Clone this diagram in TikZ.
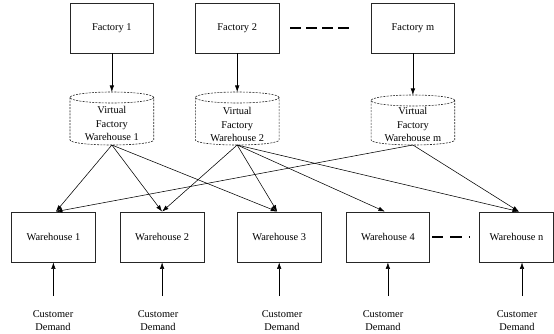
\documentclass[tikz,border=0pt]{standalone}
\usepackage{fontspec}
\setmainfont{Liberation Serif}
\usetikzlibrary{arrows.meta}
\newcommand{\vfwcyl}[2]{%
  \draw[cylline] ({#1-41.85},{#2+5.5}) -- ({#1-41.85},140)
    arc[start angle=180,end angle=360,x radius=41.85pt,y radius=5pt]
    -- ({#1+41.85},{#2+5.5});
  \draw[cylline] ({#1},{#2+5.5}) ellipse[x radius=41.85pt,y radius=5.5pt];
}
\begin{document}
\begin{tikzpicture}[x=1pt,y=-1pt,
  font=\fontsize{10.4}{13.3}\selectfont,
  box/.style={draw=black!85,line width=0.8pt,minimum width=83.7pt,minimum height=50pt,inner sep=0pt,anchor=center},
  cyltext/.style={align=center,inner sep=0pt},
  cylline/.style={draw=black!85,line width=0.6pt,dash pattern=on 2pt off 1.2pt},
  arr/.style={-{Latex[length=6.5pt,width=4.5pt]},line width=0.55pt},
  demand/.style={align=center,inner sep=0pt},
  gapdash/.style={line width=2.6pt}
]
\useasboundingbox (0,0) rectangle (554,334);

% factories
\node[box] (f1) at (111.85,28) {Factory 1};
\node[box] (f2) at (237.2,28) {Factory 2};
\node[box] (fm) at (412.9,28) {Factory m};
\foreach \k in {0,1,2,3}{
  \draw[gapdash] ([xshift={11pt+\k*15.9pt}]f2.east) -- ([xshift={21.6pt+\k*15.9pt}]f2.east);
}

% virtual factory warehouses
\vfwcyl{111.85}{92}
\vfwcyl{237.2}{92}
\vfwcyl{412.9}{95}
\coordinate (v1t) at (111.85,92);
\coordinate (v2t) at (237.2,92);
\coordinate (vmt) at (412.9,95);
\coordinate (v1b) at (111.85,145);
\coordinate (v2b) at (237.2,145);
\coordinate (vmb) at (412.9,145);
\node[cyltext] (v1) at (111.85,123.5) {Virtual\\Factory\\Warehouse 1};
\node[cyltext] (v2) at (237.2,124.5) {Virtual\\Factory\\Warehouse 2};
\node[cyltext] (vm) at (412.9,124.5) {Virtual\\Factory\\Warehouse m};

\draw[arr] (f1.south) -- (v1t);
\draw[arr] (f2.south) -- (v2t);
\draw[arr] (fm.south) -- (vmt);

% warehouses
\node[box] (w1) at (53.4,237) {Warehouse 1};
\node[box] (w2) at (162.1,237) {Warehouse 2};
\node[box] (w3) at (279.2,237) {Warehouse 3};
\node[box] (w4) at (387.9,237) {Warehouse 4};
\node[box,minimum width=74pt] (wn) at (516.5,237) {Warehouse n};
\draw[line width=2.5pt,dash pattern=on 11.3pt off 7pt] ([xshift=2pt]w4.east) -- ([xshift=-9pt]wn.west);

% distribution links
\draw[arr] (v1b) -- ([xshift=2.5pt]w1.north);
\draw[arr] (v1b) -- (w2.north);
\draw[arr] (v1b) -- ([xshift=-2pt]w3.north);
\draw[arr] (v2b) -- (w2.north);
\draw[arr] (v2b) -- ([xshift=-2pt]w3.north);
\draw[arr] (v2b) -- ([xshift=-3pt]w4.north);
\draw[arr] (v2b) -- ([xshift=2.5pt]wn.north);
\draw[arr] (vmb) -- ([xshift=2.5pt]w1.north);
\draw[arr] (vmb) -- ([xshift=2.5pt]wn.north);

% customer demand
\coordinate (d1) at (53.4,296);
\coordinate (d2) at (162.1,296);
\coordinate (d3) at (279.2,296);
\coordinate (d4) at (387.9,296);
\coordinate (dn) at (522,296);
\draw[arr] (d1) -- (w1.south);
\draw[arr] (d2) -- (w2.south);
\draw[arr] (d3) -- (w3.south);
\draw[arr] (d4) -- (w4.south);
\draw[arr] (dn) -- (wn.south -| dn);
\node[demand] (c1) at (53,320.5) {Customer\\Demand};
\node[demand] (c2) at (158,320.5) {Customer\\Demand};
\node[demand] (c3) at (282,320.5) {Customer\\Demand};
\node[demand] (c4) at (383,320.5) {Customer\\Demand};
\node[demand] (cn) at (517,320.5) {Customer\\Demand};
\end{tikzpicture}
\end{document}
